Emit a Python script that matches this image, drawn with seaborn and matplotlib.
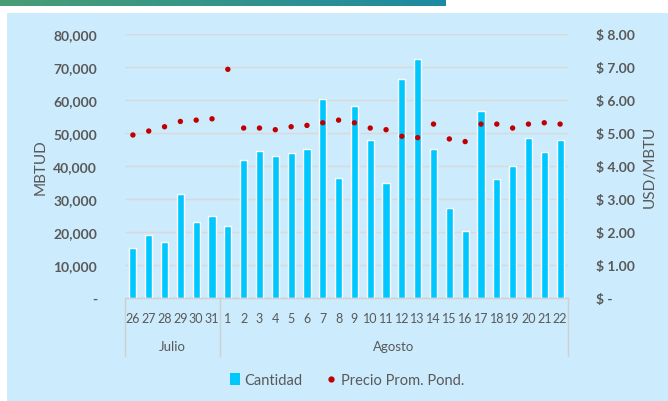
import numpy as np
import pandas as pd
import matplotlib
matplotlib.use("Agg")
import matplotlib.pyplot as plt
import matplotlib.transforms as mtransforms
from matplotlib.patches import Rectangle
from matplotlib.lines import Line2D
from matplotlib.colors import LinearSegmentedColormap
import seaborn as sns

days = ["26", "27", "28", "29", "30", "31", "1", "2", "3", "4", "5", "6", "7", "8",
        "9", "10", "11", "12", "13", "14", "15", "16", "17", "18", "19", "20", "21", "22"]
months = ["Julio"] * 6 + ["Agosto"] * 22
cantidad = [15300, 19100, 17000, 31400, 23100, 24800, 21900, 41800, 44600, 43100,
            43900, 45100, 60300, 36400, 58300, 47900, 34800, 66500, 72300, 45100,
            27300, 20400, 56600, 36000, 40100, 48400, 44300, 47900]
precio = [4.94, 5.06, 5.19, 5.35, 5.39, 5.43, 6.93, 5.15, 5.15, 5.10, 5.19, 5.23,
          5.31, 5.39, 5.31, 5.15, 5.10, 4.90, 4.86, 5.27, 4.82, 4.74, 5.27, 5.27,
          5.15, 5.27, 5.31, 5.27]
left_ticks = [0, 10000, 20000, 30000, 40000, 50000, 60000, 70000, 80000]
right_ticks = [0, 1, 2, 3, 4, 5, 6, 7, 8]

df = pd.DataFrame({"dia": days, "mes": months, "cantidad": cantidad, "precio": precio})
df["pos"] = np.arange(len(df))

sns.set_theme(style="white")
plt.rcParams["font.family"] = ["Lato", "DejaVu Sans"]

GRAY = "#595959"
BAR = "#00C8FF"
DOT = "#C00000"
BG = "#CCEBFC"

fig = plt.figure(figsize=(6.68, 4.02), dpi=100)
fig.patch.set_facecolor("white")

# background panel
bg = fig.add_axes([7 / 668, 0, 1 - 7 / 668, (402 - 14) / 402], zorder=-5)
bg.set_facecolor(BG)
bg.set_xticks([]); bg.set_yticks([])
for s in bg.spines.values():
    s.set_visible(False)

# gradient header bar
grad = fig.add_axes([0, 1 - 7 / 402, 446 / 668, 7 / 402])
g = np.linspace(0, 1, 256).reshape(1, -1)
cmap = LinearSegmentedColormap.from_list("hdr", ["#4A9E74", "#1E8AA2"])
grad.imshow(g, aspect="auto", cmap=cmap)
grad.axis("off")

ax = fig.add_axes([125 / 668, (402 - 299) / 402, (568 - 125) / 668, (299 - 35) / 402])
ax.set_facecolor("none")
sns.barplot(data=df, x="dia", y="cantidad", order=days, color=BAR, width=0.45,
            saturation=1, ax=ax, zorder=2)
ax.set_ylim(0, 80000)
ax.set_xlim(-0.5, len(days) - 0.5)
ax.set_yticks(left_ticks)
ax.set_yticklabels(["-" if v == 0 else f"{v:,}" for v in left_ticks],
                   fontsize=10, fontweight="bold", color=GRAY)
ax.yaxis.grid(True, color="#D9D9D9", linewidth=1)
ax.set_axisbelow(True)
for s in ax.spines.values():
    s.set_visible(False)
ax.tick_params(axis="y", length=0, pad=20)
ax.tick_params(axis="x", length=0, pad=10, labelsize=9, labelcolor=GRAY)
ax.set_xlabel("")
ax.set_ylabel("MBTUD", fontsize=11, color=GRAY)
ax.yaxis.set_label_coords((48 - 125) / 443, 0.5)

ax2 = ax.twinx()
sns.scatterplot(data=df, x="pos", y="precio", color=DOT, s=15, edgecolor="none",
                ax=ax2, zorder=3)
ax2.set_ylim(0, 8)
ax2.set_xlim(-0.5, len(days) - 0.5)
ax2.set_yticks(right_ticks)
ax2.set_yticklabels(["$ -" if v == 0 else f"$ {v:.2f}" for v in right_ticks],
                    fontsize=10, fontweight="bold", color=GRAY)
ax2.tick_params(axis="y", length=0, pad=20)
for s in ax2.spines.values():
    s.set_visible(False)
ax2.set_ylabel("USD/MBTU", fontsize=11, color=GRAY)
ax2.yaxis.set_label_coords((643 - 568) / 443 + 1, 0.5)
ax2.set_xlabel("")
for lab in ax2.get_yticklabels():
    lab.set_horizontalalignment("left")

# category axis lines and month labels
trans = mtransforms.blended_transform_factory(ax.transData, ax.transAxes)
lc = "#D0D0D0"
ax.plot([-0.5, len(days) - 0.5], [0, 0], transform=trans, color=lc, lw=1, clip_on=False)
n_jul = months.count("Julio")
for xb in [-0.5, n_jul - 0.5, len(days) - 0.5]:
    ax.plot([xb, xb], [0, -58 / 264], transform=trans, color=lc, lw=1, clip_on=False)
ax.text((n_jul - 1) / 2, -48 / 264, "Julio", transform=trans, ha="center", va="center",
        fontsize=9.5, color=GRAY)
ax.text((n_jul + len(days) - 1) / 2, -48 / 264, "Agosto", transform=trans, ha="center",
        va="center", fontsize=9.5, color=GRAY)

handles = [Rectangle((0, 0), 1, 1, facecolor=BAR, edgecolor="none"),
           Line2D([], [], marker="o", linestyle="none", color=DOT, markersize=3.5)]
fig.legend(handles, ["Cantidad", "Precio Prom. Pond."], loc="center",
           bbox_to_anchor=(347 / 668, 1 - 381 / 402), ncol=2, frameon=False,
           fontsize=10.5, labelcolor=GRAY, handlelength=0.7, handleheight=0.8,
           handletextpad=0.3, columnspacing=1.6)

fig.savefig("out.png", dpi=100, facecolor="white")
